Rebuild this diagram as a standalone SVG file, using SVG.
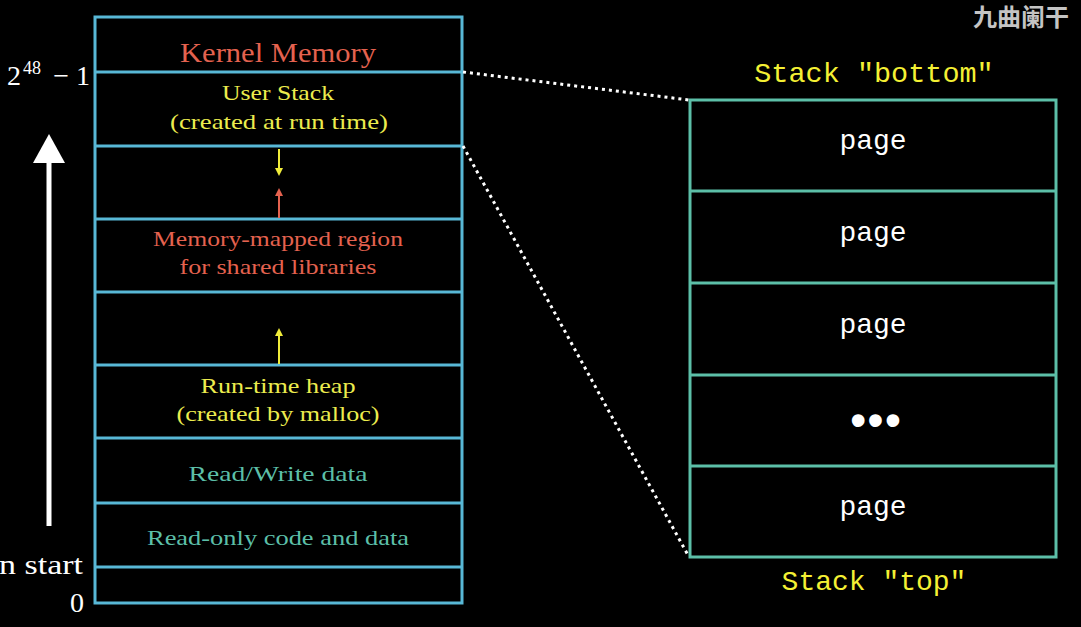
<svg xmlns="http://www.w3.org/2000/svg" width="1081" height="627" viewBox="0 0 1081 627">
<defs>
<style>
.bg{fill:#000}
.blue{fill:none;stroke:#58b8d6;stroke-width:3}
.teal{fill:none;stroke:#5cbfa8;stroke-width:3}
.serif{font-family:"Liberation Serif","DejaVu Serif",serif;text-anchor:middle}
.mono{font-family:"Liberation Mono","DejaVu Sans Mono",monospace;text-anchor:middle}
.red{fill:#e4624f}
.yel{fill:#ecec4e}
.tl{fill:#5cbfa8}
.wh{fill:#fff}
.dot{fill:none;stroke:#fff;stroke-width:3;stroke-dasharray:3 4}
</style>
<marker id="ay" viewBox="0 0 10 10" refX="5" refY="5" markerWidth="8" markerHeight="8" orient="auto" markerUnits="userSpaceOnUse"><path d="M0,0 L10,5 L0,10 z" fill="#f0ec3a"/></marker>
<marker id="ar" viewBox="0 0 10 10" refX="5" refY="5" markerWidth="8" markerHeight="8" orient="auto" markerUnits="userSpaceOnUse"><path d="M0,0 L10,5 L0,10 z" fill="#e4624f"/></marker>
</defs>
<rect class="bg" x="0" y="0" width="1081" height="627"/>

<g id="watermark"><text x="1021" y="26" text-anchor="middle" font-family="Noto Sans CJK SC, sans-serif" font-weight="bold" font-size="24" fill="#c4c4c4">九曲阑干</text></g>

<g id="axis">
<rect x="46.5" y="160" width="5" height="366" fill="#fff"/>
<path d="M33,163 L49,134 L65,163 z" fill="#fff"/>
<text x="7" y="85" font-family="Liberation Serif, serif" font-size="28" fill="#fff">2</text>
<text x="23" y="74" font-family="Liberation Serif, serif" font-size="18" fill="#fff">48</text>
<text x="90" y="85" text-anchor="end" font-family="Liberation Serif, serif" font-size="28" fill="#fff">− 1</text>
<text x="83" y="574" text-anchor="end" font-family="Liberation Serif, serif" font-size="28" fill="#fff" textLength="84" lengthAdjust="spacingAndGlyphs">n start</text>
<text x="84" y="612" text-anchor="end" font-family="Liberation Serif, serif" font-size="28" fill="#fff">0</text>
</g>

<g id="memory">
<rect class="blue" x="95" y="17" width="367" height="586"/>
<line class="blue" x1="95" y1="72" x2="462" y2="72"/>
<line class="blue" x1="95" y1="146" x2="462" y2="146"/>
<line class="blue" x1="95" y1="219" x2="462" y2="219"/>
<line class="blue" x1="95" y1="292" x2="462" y2="292"/>
<line class="blue" x1="95" y1="365" x2="462" y2="365"/>
<line class="blue" x1="95" y1="438" x2="462" y2="438"/>
<line class="blue" x1="95" y1="503" x2="462" y2="503"/>
<line class="blue" x1="95" y1="567" x2="462" y2="567"/>
</g>

<g id="kernel"><text class="serif red" x="278" y="62" font-size="28" textLength="196" lengthAdjust="spacingAndGlyphs">Kernel Memory</text></g>
<g id="userstack">
<text class="serif yel" x="278" y="100" font-size="21" textLength="112" lengthAdjust="spacingAndGlyphs">User Stack</text>
<text class="serif yel" x="279" y="129" font-size="21" textLength="218" lengthAdjust="spacingAndGlyphs">(created at run time)</text>
</g>
<g id="mmap">
<text class="serif red" x="278" y="246" font-size="21" textLength="250" lengthAdjust="spacingAndGlyphs">Memory-mapped region</text>
<text class="serif red" x="278" y="274" font-size="21" textLength="197" lengthAdjust="spacingAndGlyphs">for shared libraries</text>
</g>
<g id="heap">
<text class="serif yel" x="278" y="393" font-size="21" textLength="155" lengthAdjust="spacingAndGlyphs">Run-time heap</text>
<text class="serif yel" x="278" y="421" font-size="21" textLength="203" lengthAdjust="spacingAndGlyphs">(created by malloc)</text>
</g>
<g id="rwdata"><text class="serif tl" x="278" y="481" font-size="21" textLength="179" lengthAdjust="spacingAndGlyphs">Read/Write data</text></g>
<g id="rodata"><text class="serif tl" x="278" y="545" font-size="21" textLength="262" lengthAdjust="spacingAndGlyphs">Read-only code and data</text></g>

<g id="stackpages">
<rect class="teal" x="690" y="100" width="366" height="457"/>
<line class="teal" x1="690" y1="191" x2="1056" y2="191"/>
<line class="teal" x1="690" y1="283" x2="1056" y2="283"/>
<line class="teal" x1="690" y1="375" x2="1056" y2="375"/>
<line class="teal" x1="690" y1="466" x2="1056" y2="466"/>
<text class="mono wh" x="873" y="149" font-size="28">page</text>
<text class="mono wh" x="873" y="241" font-size="28">page</text>
<text class="mono wh" x="873" y="333" font-size="28">page</text>
<text class="mono wh" x="871" y="435" font-size="44" font-weight="bold" letter-spacing="-9">•••</text>
<text class="mono wh" x="873" y="515" font-size="28">page</text>
</g>
<g id="labels">
<text class="mono" x="874" y="82" font-size="28.5" fill="#f4f034">Stack "bottom"</text>
<text class="mono" x="874" y="590" font-size="28" fill="#f4f034">Stack "top"</text>
</g>

<g id="connectors">
<line x1="279" y1="149" x2="279" y2="172" stroke="#f0ec3a" stroke-width="2" marker-end="url(#ay)"/>
<line x1="279" y1="218" x2="279" y2="192" stroke="#e4624f" stroke-width="2" marker-end="url(#ar)"/>
<line x1="279" y1="364" x2="279" y2="332" stroke="#f0ec3a" stroke-width="2" marker-end="url(#ay)"/>
<line class="dot" x1="463" y1="72" x2="689" y2="100"/>
<line class="dot" x1="463" y1="146" x2="689" y2="557"/>
</g>
</svg>
